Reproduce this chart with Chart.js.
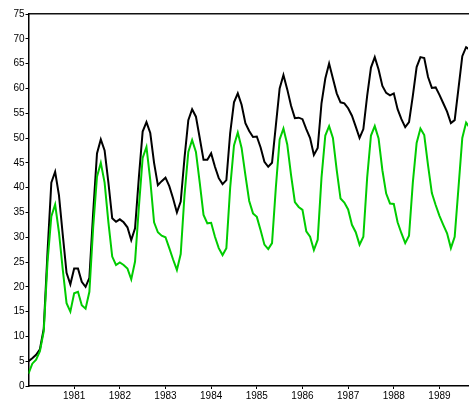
<!DOCTYPE html>
<html>
<head>
<meta charset="utf-8">
<script src="https://cdn.jsdelivr.net/npm/chart.js@4/dist/chart.umd.min.js"></script>
<style>
  html, body { margin: 0; padding: 0; background: #fff; }
  #wrap { width: 469px; height: 399px; }
</style>
</head>
<body>
<div id="wrap"><canvas id="c" width="469" height="399"></canvas></div>
<script>
// Monthly readings, January 1980 onwards (one value per month).
const yearLabels = ['1981', '1982', '1983', '1984', '1985', '1986', '1987', '1988', '1989'];
const yTicks = [0, 5, 10, 15, 20, 25, 30, 35, 40, 45, 50, 55, 60, 65, 70, 75];

const upperSeries = [
  5.0, 5.6, 6.3, 7.4, 11.5, 27.0, 41.0, 43.2, 38.5, 30.5, 22.8, 20.5,
  23.7, 23.7, 21.0, 20.0, 21.8, 35.0, 46.9, 49.7, 47.5, 41.0, 33.8, 33.1,
  33.6, 33.0, 32.0, 29.4, 31.8, 42.0, 51.3, 53.2, 51.0, 45.0, 40.5, 41.3,
  42.0, 40.3, 37.8, 35.0, 37.2, 46.0, 53.6, 55.8, 54.3, 50.0, 45.6, 45.6,
  46.9, 44.2, 41.9, 40.7, 41.5, 51.0, 57.2, 59.0, 56.7, 53.0, 51.4, 50.2,
  50.3, 48.1, 45.2, 44.2, 45.0, 52.5, 60.0, 62.7, 59.8, 56.5, 54.0, 54.1,
  53.8, 51.8, 50.0, 46.6, 48.0, 57.0, 62.0, 65.0, 62.0, 59.0, 57.2, 57.0,
  56.0, 54.5, 52.3, 50.0, 51.8, 58.5, 64.2, 66.3, 63.8, 60.5, 59.1, 58.6,
  59.0, 55.8, 53.8, 52.2, 53.2, 58.5, 64.3, 66.3, 66.1, 62.3, 60.1, 60.2,
  58.7, 57.0, 55.3, 53.0, 53.6, 60.0, 66.5, 68.3, 67.8
];

const lowerSeries = [
  2.5, 4.5, 5.3, 7.0, 11.0, 25.0, 34.2, 36.6, 31.0, 23.5, 16.7, 15.0,
  18.7, 19.0, 16.3, 15.6, 19.0, 32.0, 42.2, 45.0, 41.0, 33.0, 26.1, 24.4,
  24.9, 24.4, 23.7, 21.5, 25.1, 36.0, 46.0, 48.2, 41.5, 33.0, 31.0, 30.3,
  30.0, 27.8, 25.5, 23.4, 26.6, 38.5, 47.2, 49.6, 47.2, 41.0, 34.5, 32.8,
  32.9, 30.1, 27.8, 26.4, 27.8, 40.0, 48.5, 51.1, 48.0, 42.5, 37.3, 34.8,
  34.1, 31.4, 28.5, 27.6, 28.8, 40.0, 49.7, 51.9, 48.7, 42.5, 37.1, 36.1,
  35.5, 31.2, 30.1, 27.4, 29.5, 42.0, 50.5, 52.4, 50.0, 43.5, 37.8, 37.0,
  35.6, 32.5, 31.0, 28.5, 30.1, 42.0, 50.5, 52.4, 49.9, 43.5, 38.8, 36.8,
  36.7, 33.0, 30.8, 28.8, 30.3, 41.0, 49.0, 51.9, 50.6, 44.5, 38.9, 36.5,
  34.3, 32.5, 30.8, 27.8, 30.1, 40.0, 50.0, 53.1, 52.0
];

// x is the month index counted from January 1980
const toPoints = arr => arr.map((v, i) => ({ x: i, y: v }));

const AXIS_FONT = { family: '"Liberation Sans", Arial, sans-serif', size: 10 };

new Chart(document.getElementById('c'), {
  type: 'line',
  data: {
    datasets: [
      {
        label: 'upper',
        data: toPoints(upperSeries),
        borderColor: '#000000',
        borderWidth: 2,
        pointRadius: 0,
        tension: 0,
        order: 1
      },
      {
        label: 'lower',
        data: toPoints(lowerSeries),
        borderColor: '#00cc00',
        borderWidth: 2,
        pointRadius: 0,
        tension: 0,
        order: 0
      }
    ]
  },
  options: {
    responsive: false,
    animation: false,
    layout: { padding: { left: 0, right: 1, top: 0, bottom: 0 } },
    plugins: {
      legend: { display: false },
      tooltip: { enabled: false }
    },
    scales: {
      x: {
        type: 'linear',
        position: 'bottom',
        min: 0,
        max: 115.5,
        afterBuildTicks: s => {
          s.ticks = yearLabels.map((_, k) => ({ value: 12 * (k + 1) }));
        },
        afterFit: s => { s.height = 13; },
        ticks: {
          autoSkip: false,
          maxRotation: 0,
          padding: 1,
          color: '#000',
          font: AXIS_FONT,
          callback: v => yearLabels[v / 12 - 1]
        },
        grid: {
          drawOnChartArea: false,
          drawTicks: true,
          tickLength: 3,
          tickColor: '#000',
          tickWidth: 1
        },
        border: { display: true, color: '#000', width: 1.5 }
      },
      xTop: {
        type: 'linear',
        position: 'top',
        min: 0,
        max: 115.5,
        afterFit: s => { s.height = 14; },
        ticks: { display: false },
        grid: { display: false },
        border: { display: true, color: '#111', width: 1.5 }
      },
      y: {
        type: 'linear',
        position: 'left',
        min: 0,
        max: 75,
        afterBuildTicks: s => {
          s.ticks = yTicks.map(v => ({ value: v }));
        },
        afterFit: s => { s.width = 28.5; },
        ticks: {
          padding: 1,
          color: '#000',
          font: AXIS_FONT
        },
        grid: {
          drawOnChartArea: false,
          drawTicks: true,
          tickLength: 3,
          tickColor: '#000',
          tickWidth: 1
        },
        border: { display: true, color: '#000', width: 1.5 }
      }
    }
  }
});
</script>
</body>
</html>
